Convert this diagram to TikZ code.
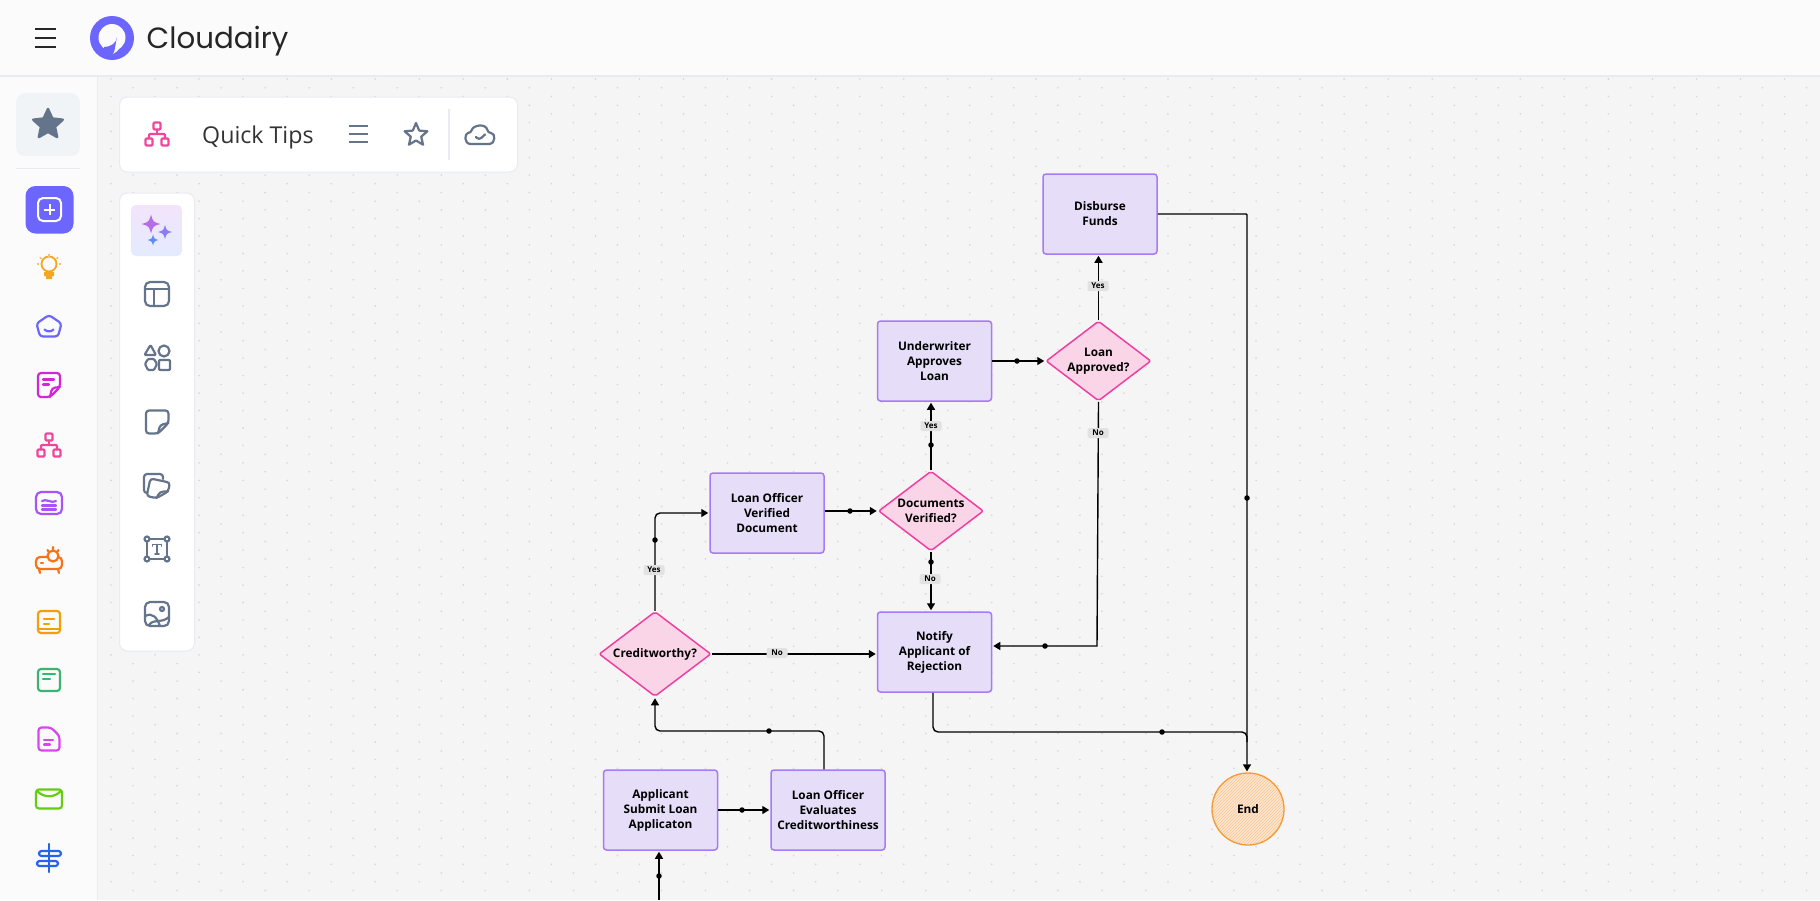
\documentclass[tikz,border=0pt]{standalone}
\usepackage{fontspec}
\setmainfont{Open Sans}
\newfontfamily\logofont{Poppins}
\definecolor{canvasbg}{HTML}{F5F5F5}
\definecolor{chromebg}{HTML}{FBFBFB}
\definecolor{chromeline}{HTML}{E8ECF1}
\definecolor{canvasdot}{HTML}{D6D6D6}
\definecolor{brandblue}{HTML}{6C66FF}
\definecolor{toolgray}{HTML}{64748B}
\definecolor{boxfill}{HTML}{E6DDF8}
\definecolor{boxline}{HTML}{A57BF6}
\definecolor{decfill}{HTML}{F9D5E7}
\definecolor{decline}{HTML}{F03FA0}
\definecolor{endfill}{HTML}{FDE6D2}
\definecolor{endline}{HTML}{F59A36}
\definecolor{tagfill}{HTML}{E2E2E2}
\definecolor{orgpink}{HTML}{F0479D}
\definecolor{bulbgold}{HTML}{F5A623}
\definecolor{notepink}{HTML}{D426D8}
\definecolor{stackviolet}{HTML}{A855F7}
\definecolor{beamorange}{HTML}{F97316}
\definecolor{memoamber}{HTML}{F59E0B}
\definecolor{memogreen}{HTML}{3CB371}
\definecolor{filepink}{HTML}{D946EF}
\definecolor{maillime}{HTML}{66CC11}
\definecolor{signblue}{HTML}{2563EB}
\definecolor{sparkone}{HTML}{B66EE8}
\definecolor{sparktwo}{HTML}{8A7CF5}
\definecolor{sparkthree}{HTML}{5B8DFA}
\definecolor{tiletop}{HTML}{F3E4FB}
\definecolor{tilebot}{HTML}{E4EBFF}
\usepackage{tikz}
\usetikzlibrary{shapes.geometric, arrows.meta, patterns}
\tikzset{
  procbox/.style={draw=boxline, fill=boxfill, line width=1.5pt, rounded corners=3pt, minimum width=114pt, minimum height=80pt, align=center, inner sep=0pt, font=\fontsize{11.8}{15}\selectfont\bfseries},
  decbox/.style={diamond, draw=decline, fill=decfill, line width=1.5pt, rounded corners=2pt, align=center, inner sep=0pt, font=\fontsize{11.8}{15}\selectfont\bfseries},
  flowline/.style={draw=black, line width=1.4pt, rounded corners=5pt, -{Triangle[length=7pt,width=8pt]}, shorten >=1pt},
  flowrun/.style={draw=black, line width=1.4pt, rounded corners=5pt},
  middot/.style={circle, fill=black, inner sep=0pt, minimum size=5.5pt},
  tagbox/.style={fill=tagfill, rounded corners=2pt, inner sep=0pt, minimum width=21pt, minimum height=10pt, font=\fontsize{8}{8}\selectfont\bfseries},
  chromepanel/.style={draw=chromeline, fill=white, line width=1pt, rounded corners=8pt},
  iconpen/.style={line width=2.2pt, line cap=round, line join=round, rounded corners=3pt},
  toolpen/.style={iconpen, draw=toolgray}
}
\newcommand{\orgicon}[3]{% x, y, colour
  \begin{scope}[shift={(#1,#2)}, iconpen, draw=#3]
    \draw[rounded corners=1pt] (-3.5,-11.5) rectangle (3.5,-4.5);
    \draw[rounded corners=1pt] (-11.5,4.5) rectangle (-4.5,11.5);
    \draw[rounded corners=1pt] (4.5,4.5) rectangle (11.5,11.5);
    \draw (0,-4.5) -- (0,0);
    \draw[rounded corners=1pt] (-8,4.5) -- (-8,0) -- (8,0) -- (8,4.5);
  \end{scope}}
\newcommand{\sparkle}[4]{% x, y, size, colour
  \fill[#4] (#1,{#2-#3}) .. controls ({#1+0.22*#3},{#2-0.22*#3}) .. ({#1+#3},#2) .. controls ({#1+0.22*#3},{#2+0.22*#3}) .. (#1,{#2+#3}) .. controls ({#1-0.22*#3},{#2+0.22*#3}) .. ({#1-#3},#2) .. controls ({#1-0.22*#3},{#2-0.22*#3}) .. cycle;}
\begin{document}
\begin{tikzpicture}[x=1pt, y=-1pt]
  \useasboundingbox (0,0) rectangle (1820,900);

  % Canvas and dots
  \fill[canvasbg] (0,0) rectangle (1820,900);
  \foreach \dotcol in {0,...,77}{
    \pgfmathsetmacro\dotx{111+22.02*\dotcol}
    \pgfmathsetmacro\doty{79+8.8*mod(\dotcol,2)}
    \foreach \dotrow in {0,...,46}
      \fill[canvasdot] (\dotx,{\doty+17.45*\dotrow}) circle (0.9);
  }

  % Top bar and side bar
  \fill[chromebg] (0,0) rectangle (1820,76);
  \fill[chromebg] (0,76) rectangle (97,900);
  \draw[chromeline, line width=1.2pt] (0,76) -- (1820,76);
  \draw[chromeline, line width=1.2pt] (97.5,76) -- (97.5,900);
  \foreach \bary in {29,38,47}
    \draw[black!85, line width=2pt] (34.5,\bary) -- (55.5,\bary);

  % Logo
  \fill[brandblue] (112,38) circle (22);
  \fill[chromebg] (112,37.5) circle (13.5);
  \fill[brandblue] (117,37) .. controls (116.5,43) and (111,47) .. (104,47) -- (104,52) -- (114,53) -- cycle;
  \fill[chromebg] (122.5,36) .. controls (123,45) and (119,51) .. (113,54) .. controls (116,49) and (117,44) .. (117,38) -- cycle;
  \node[anchor=west, inner sep=0pt, text=black!85, font=\logofont\fontsize{29.3}{29.3}\selectfont] (brandname) at (146.5,41) {Cloudairy};

  % Favourites
  \fill[chromeline!60, rounded corners=9pt] (16,93) rectangle (80,156);
  \node[star, star points=5, star point ratio=2.1, fill=toolgray, draw=toolgray, line width=2.5pt, line join=round, inner sep=0pt, minimum size=31pt] (favstar) at (48,124.5) {};
  \draw[chromeline, line width=1pt] (16,168.5) -- (80,168.5);
  \fill[brandblue, rounded corners=10pt] (25.5,186) rectangle (73.5,233.5);
  \draw[white, line width=2pt, rounded corners=5pt] (38,198) rectangle (61,221);
  \draw[white, line width=2pt] (49.5,204) -- (49.5,215) (44,209.5) -- (55,209.5);

  % Bulb
  \begin{scope}[shift={(49,267)}]
    \draw[bulbgold, line width=1.8pt] (0,-3) circle (7.5);
    \fill[bulbgold] (-5,5) rectangle (5,9) (-3,9) rectangle (3,12);
    \foreach \rayx/\rayy/\rayu/\rayv in {0/-13/0/-10.5, -9/-10/-7.5/-8, 9/-10/7.5/-8, -12/-3/-10/-3, 12/-3/10/-3}
      \draw[bulbgold!70, line width=1.5pt] (\rayx,\rayy) -- (\rayu,\rayv);
  \end{scope}

  % Pentagon
  \begin{scope}[shift={(49,326)}, iconpen, draw=brandblue]
    \draw (0,-11) -- (12.5,-2.5) -- (9,10.5) -- (-9,10.5) -- (-12.5,-2.5) -- cycle;
    \draw (-4.5,3.5) .. controls (-2,6) and (2,6) .. (4.5,3.5);
  \end{scope}

  % Magenta note
  \begin{scope}[shift={(49,385)}, iconpen, draw=notepink]
    \draw (1,12) -- (-6,12) -- (-11,12) -- (-11,-12) -- (11,-12) -- (11,2) -- cycle;
    \draw (11,2) -- (3,3) -- (1,12);
    \draw (-6,-5.5) -- (5,-5.5) (-6,-0.5) -- (0,-0.5);
  \end{scope}

  \orgicon{49}{445}{orgpink}

  % Purple stack
  \begin{scope}[shift={(49,503)}, iconpen, draw=stackviolet]
    \draw[rounded corners=5pt] (-13,-11) rectangle (13,11);
    \draw (-7,-2) .. controls (-3,-5) and (3,1) .. (7,-2);
    \draw (-7,2.5) -- (7,2.5) (-7,6.5) -- (7,6.5);
  \end{scope}

  % Projector
  \begin{scope}[shift={(49,563)}, iconpen, draw=beamorange]
    \draw[rounded corners=4pt] (-13,-6) rectangle (13,6);
    \fill[chromebg] (4,-7) circle (6);
    \draw (4,-7) circle (5.5);
    \draw (-10,6) -- (-9,10) (9,6) -- (10,10);
    \draw (-8,0) -- (-6,0);
    \draw (-1.5,-13) -- (0,-11) (4,-16) -- (4,-13.5) (9.5,-13) -- (8,-11);
  \end{scope}

  % Orange note
  \begin{scope}[shift={(49,622)}, iconpen, draw=memoamber]
    \draw (-11,-11) rectangle (11,11);
    \draw (-11,7) -- (11,7);
    \draw (-5,-3) -- (5,-3) (-5,2) -- (0,2);
  \end{scope}

  % Green note
  \begin{scope}[shift={(49,680)}, iconpen, draw=memogreen]
    \draw (-11,-11) rectangle (11,11);
    \draw (-6,-6) -- (6,-6) (-6,-1) -- (1,-1);
  \end{scope}

  % File
  \begin{scope}[shift={(49,739)}, iconpen, draw=filepink]
    \draw (2,-11.5) -- (-10.5,-11.5) -- (-10.5,11.5) -- (10.5,11.5) -- (10.5,-3) -- cycle;
    \draw (-5,1) -- (4,1) (-5,5.5) -- (1,5.5);
  \end{scope}

  % Envelope
  \begin{scope}[shift={(49,799)}, iconpen, draw=maillime]
    \draw (-13,-9.5) rectangle (13,9.5);
    \draw (-12,-8) .. controls (-5,-1) and (5,-1) .. (12,-8);
  \end{scope}

  % Signpost
  \begin{scope}[shift={(49,858)}, iconpen, draw=signblue]
    \draw (0,-14) -- (0,14);
    \draw[rounded corners=2.5pt] (-10,-7) rectangle (12,-2);
    \draw[rounded corners=2.5pt] (-12,3) rectangle (9,8);
  \end{scope}

  % Quick tips panel
  \draw[chromepanel] (119.5,97) rectangle (517.5,172);
  \orgicon{157}{134}{orgpink}
  \node[anchor=west, inner sep=0pt, text=black!80, font=\fontsize{23.2}{23.2}\selectfont] (panelname) at (202,137) {Quick Tips};
  \foreach \bary in {126,134,142}
    \draw[toolgray, line width=2pt] (349,\bary) -- (368,\bary);
  \node[star, star points=5, star point ratio=2.2, draw=toolgray, line width=2.2pt, line join=round, inner sep=0pt, minimum size=24pt] (panelstar) at (416,135) {};
  \draw[chromeline, line width=1.3pt] (449,109) -- (449,160);
  \draw[toolpen] (474,144) .. controls (463,144) and (465,133) .. (471,133) .. controls (473,125) and (486,123) .. (488,133) .. controls (496,133) and (495,144) .. (487,144) -- cycle;
  \draw[toolpen] (476,137) -- (479,140) -- (485,134.5);

  % Tool panel
  \draw[chromepanel] (119.5,193) rectangle (194.5,651);
  \shade[top color=tiletop, bottom color=tilebot, rounded corners=5pt] (131,205) rectangle (182,256);
  \sparkle{151}{224}{9.5}{sparkone}
  \sparkle{165}{232}{7}{sparktwo}
  \sparkle{153}{240}{5.5}{sparkthree}

  % Layout
  \begin{scope}[shift={(157,294)}, toolpen]
    \draw[rounded corners=5pt] (-12,-12) rectangle (12,12);
    \draw (-12,-5) -- (12,-5) (-3,-5) -- (-3,12);
  \end{scope}

  % Shapes
  \begin{scope}[shift={(157,358)}, toolpen]
    \draw[rounded corners=1pt] (-6.5,-13) -- (-1,-3) -- (-12.5,-3) -- cycle;
    \draw (7,-7) circle (5.5);
    \draw[rounded corners=1pt] (-12,6) -- (-9,1) -- (-3,1) -- (0,6) -- (-3,12) -- (-9,12) -- cycle;
    \draw[rounded corners=1pt] (2,2) rectangle (13,12);
  \end{scope}

  % Sticky
  \begin{scope}[shift={(157,422)}, toolpen]
    \draw (1,11.5) -- (-11,11.5) -- (-11,-11.5) -- (11.5,-11.5) -- (11.5,1) -- cycle;
    \draw (11.5,1) -- (3,3) -- (1,11.5);
  \end{scope}

  % Stickies
  \begin{scope}[shift={(157,486)}, toolpen]
    \draw (-4,7) -- (-13,7) -- (-13,-12) -- (6,-12) -- (6,-7);
    \fill[white, rotate=-12] (-8,-6) rectangle (12,12);
    \draw[rotate=-12] (2,12) -- (-8,12) -- (-8,-6) -- (12,-6) -- (12,3) -- cycle;
    \draw[rotate=-12] (12,3) -- (4,5) -- (2,12);
  \end{scope}

  % Text
  \begin{scope}[shift={(157,549)}, toolpen, rounded corners=0pt]
    \draw (-10,-10) rectangle (10,10);
    \foreach \cornx/\corny in {-10/-10, 10/-10, -10/10, 10/10}{
      \fill[white] (\cornx,\corny) circle (2.5);
      \draw (\cornx,\corny) circle (2.5);
    }
    \draw[line width=1.6pt] (-4.5,-3) -- (-4.5,-4.5) -- (4.5,-4.5) -- (4.5,-3) (0,-4.5) -- (0,5) (-2,5) -- (2,5);
  \end{scope}

  % Image
  \begin{scope}[shift={(157,614)}, toolpen]
    \draw[rounded corners=5pt] (-12,-12) rectangle (12,12);
    \draw (5,-5) circle (2);
    \draw (-12,2) .. controls (-4,-2) and (0,4) .. (3,12);
    \draw (-8,11) .. controls (-3,4) and (4,10) .. (12,3);
  \end{scope}

  % Process boxes
  \node[procbox] (apply) at (660.5,810) {Applicant\\Submit Loan\\Applicaton};
  \node[procbox] (assess) at (828,810) {Loan Officer\\Evaluates\\Creditworthiness};
  \node[procbox] (verify) at (767,513) {Loan Officer\\Verified\\Document};
  \node[procbox] (reject) at (934.5,652) {Notify\\Applicant of\\Rejection};
  \node[procbox] (under) at (934.5,361) {Underwriter\\Approves\\Loan};
  \node[procbox] (funds) at (1100,214) {Disburse\\Funds};

  % Decisions
  \node[decbox, minimum width=112pt, minimum height=85pt] (credit) at (655,654) {\makebox[0pt]{\raisebox{-1pt}{Creditworthy?}}};
  \node[decbox, minimum width=105pt, minimum height=80pt] (docs) at (931,511) {\makebox[0pt]{Documents}\\\makebox[0pt]{Verified?}};
  \node[decbox, minimum width=105pt, minimum height=80pt] (approved) at (1098.5,361) {\makebox[0pt]{Loan}\\\makebox[0pt]{Approved?}};

  % End
  \node[circle, draw=endline, line width=1.3pt, minimum size=72pt, inner sep=0pt, preaction={fill=endfill}, pattern=north east lines, pattern color=endline!55, font=\fontsize{11.8}{15}\selectfont\bfseries] (finish) at (1248,809) {End};

  % Connectors
  \coordinate (source) at (659,900);
  \coordinate (assessturn) at (824,731);
  \coordinate (approvedturn) at (1097,646);
  \coordinate (fundsturn) at (1247,214);
  \coordinate (rejectturn) at (933,732);
  \coordinate (joinpt) at (1247,732);
  \draw[flowline] (source) -- (source |- apply.south);
  \draw[flowline] (apply.east) -- (assess.west);
  \draw[flowline] ([xshift=-4pt]assess.north) -- (assessturn) -- (assessturn -| credit.south) -- (credit.south);
  \draw[flowline] (credit.north) |- (verify.west);
  \draw[flowline] (credit.east) -- (reject.west |- credit.east);
  \draw[flowline] (verify.east |- docs.west) -- (docs.west);
  \draw[flowline] (docs.north) -- (docs.north |- under.south);
  \draw[flowline] (docs.south) -- (docs.south |- reject.north);
  \draw[flowline] (under.east) -- (approved.west);
  \draw[flowline] (approved.north) -- (approved.north |- funds.south);
  \draw[flowline, rounded corners=0pt] (approved.south) -- (approvedturn) -- (approvedturn -| reject.east);
  \draw[flowline, rounded corners=1pt] (funds.east) -- (fundsturn) -- (fundsturn |- finish.north);
  \draw[flowrun] ([xshift=-1.5pt]reject.south) -- (rejectturn) -- (joinpt) -- ++(0,10);

  % Dots on the lines
  \node[middot] (dotsource) at (659,876) {};
  \node[middot] (dotapply) at (742,810) {};
  \node[middot] (dotassess) at (769,731) {};
  \node[middot] (dotcredit) at (655,540) {};
  \node[middot] (dotverify) at (850,511) {};
  \node[middot] (dotdocsno) at (931,562) {};
  \node[middot] (dotdocsyes) at (931,445) {};
  \node[middot] (dotunder) at (1017,361) {};
  \node[middot] (dotapproved) at (1045,646) {};
  \node[middot] (dotfunds) at (1247,498) {};
  \node[middot] (dotreject) at (1162,732) {};

  % Tags on the lines
  \node[tagbox] (tagcreditno) at (777,653) {No};
  \node[tagbox] (tagcredityes) at (654,570) {Yes};
  \node[tagbox] (tagdocsno) at (930,579) {No};
  \node[tagbox] (tagdocsyes) at (931,426) {Yes};
  \node[tagbox] (tagapprovedyes) at (1098,286) {Yes};
  \node[tagbox] (tagapprovedno) at (1098,433) {No};
\end{tikzpicture}
\end{document}
